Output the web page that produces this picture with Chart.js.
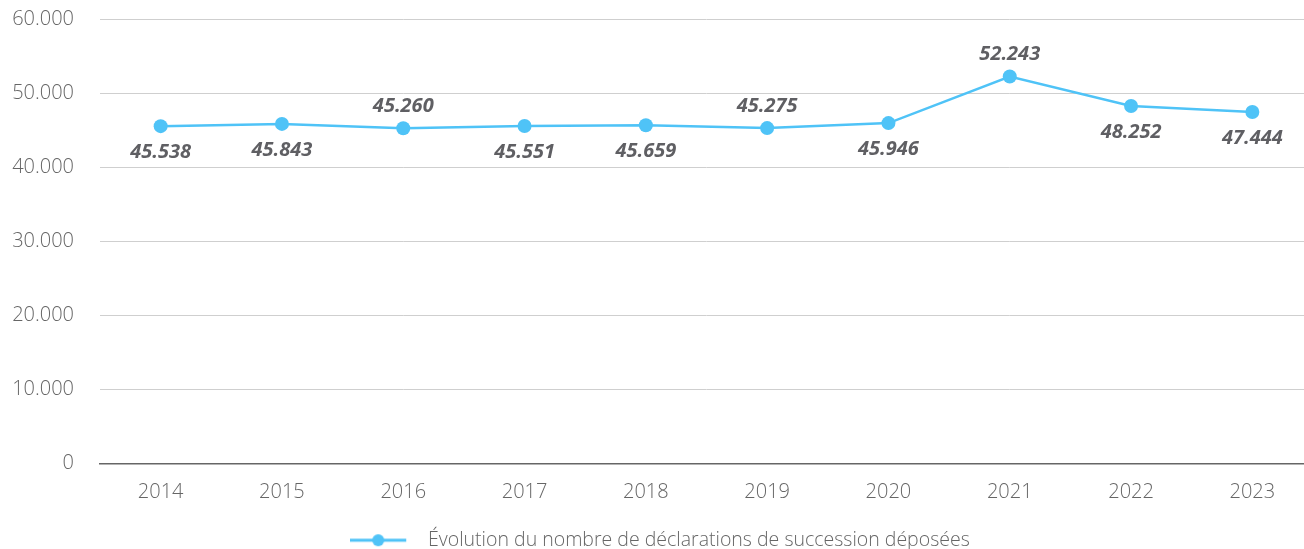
<!DOCTYPE html>
<html>
<head>
<meta charset="utf-8">
<script src="https://cdn.jsdelivr.net/npm/chart.js@4"></script>
<style>
  html, body { margin: 0; padding: 0; background: #fff; overflow: hidden; }
  #wrap { position: absolute; left: 0; top: -19px; width: 1320px; height: 579px; }
</style>
</head>
<body>
<div id="wrap"><canvas id="myChart"></canvas></div>
<script>
var years = ['2014', '2015', '2016', '2017', '2018', '2019', '2020', '2021', '2022', '2023'];
var declarations = [45538, 45843, 45260, 45551, 45659, 45275, 45946, 52243, 48252, 47444];
var yTicks = [0, 10000, 20000, 30000, 40000, 50000, 60000];
var seriesLabel = 'Évolution du nombre de déclarations de succession déposées';
var labelSide = ['below', 'below', 'above', 'below', 'below', 'above', 'below', 'above', 'below', 'below'];

var blue = '#4fc3f7';

function fmt(v) {
    return v.toLocaleString('de-DE');
}

// legend marker: line with a dot in the middle
var marker = document.createElement('canvas');
marker.width = 68;
marker.height = 14;
var mctx = marker.getContext('2d');
mctx.strokeStyle = blue;
mctx.lineWidth = 3;
mctx.beginPath();
mctx.moveTo(0, 7);
mctx.lineTo(56, 7);
mctx.stroke();
mctx.fillStyle = blue;
mctx.beginPath();
mctx.arc(28, 7, 6, 0, Math.PI * 2);
mctx.fill();

var valueLabels = {
    id: 'valueLabels',
    afterDatasetsDraw: function(chart) {
        var ctx = chart.ctx;
        var meta = chart.getDatasetMeta(0);
        ctx.save();
        ctx.font = 'italic bold 20px "Open Sans"';
        ctx.fillStyle = '#5f5f63';
        ctx.textAlign = 'center';
        ctx.textBaseline = 'middle';
        meta.data.forEach(function(pt, i) {
            var dy = labelSide[i] == 'above' ? -22 : 26;
            ctx.fillText(fmt(declarations[i]), pt.x, pt.y + dy);
        });
        ctx.restore();
    }
};

var ctx = document.getElementById('myChart').getContext('2d');
var chart = new Chart(ctx, {
    type: 'line',
    data: {
        labels: years,
        datasets: [{
            label: seriesLabel,
            data: declarations,
            borderColor: blue,
            backgroundColor: blue,
            borderWidth: 2.5,
            pointRadius: 7,
            pointHoverRadius: 7,
            pointBorderWidth: 0,
            pointStyle: 'circle',
            fill: false,
            tension: 0
        }]
    },
    plugins: [valueLabels],
    options: {
        responsive: true,
        maintainAspectRatio: false,
        animation: false,
        layout: { padding: 0 },
        plugins: {
            tooltip: { enabled: false },
            legend: {
                position: 'bottom',
                labels: {
                    usePointStyle: true,
                    pointStyle: marker,
                    pointStyleWidth: 68,
                    color: '#666',
                    font: { family: 'Open Sans', size: 19.5, weight: '300' },
                    padding: 4
                }
            }
        },
        scales: {
            x: {
                offset: true,
                grid: { display: false, drawTicks: false },
                border: { display: true, color: '#666', width: 1.5 },
                ticks: {
                    color: '#666',
                    padding: 17,
                    font: { family: 'Open Sans', size: 20, weight: '300' }
                },
                afterFit: function(axis) { axis.height = 63; }
            },
            y: {
                min: 0,
                max: 60000,
                afterBuildTicks: function(axis) {
                    axis.ticks = yTicks.map(function(v) { return { value: v }; });
                },
                grid: { color: '#cfcfcf', lineWidth: 1, drawTicks: false },
                border: { display: false },
                ticks: {
                    color: '#666',
                    padding: 26,
                    font: { family: 'Open Sans', size: 20, weight: '300' },
                    callback: function(v) { return fmt(v); }
                },
                afterFit: function(axis) { axis.width = 100; }
            }
        }
    }
});
</script>
</body>
</html>
